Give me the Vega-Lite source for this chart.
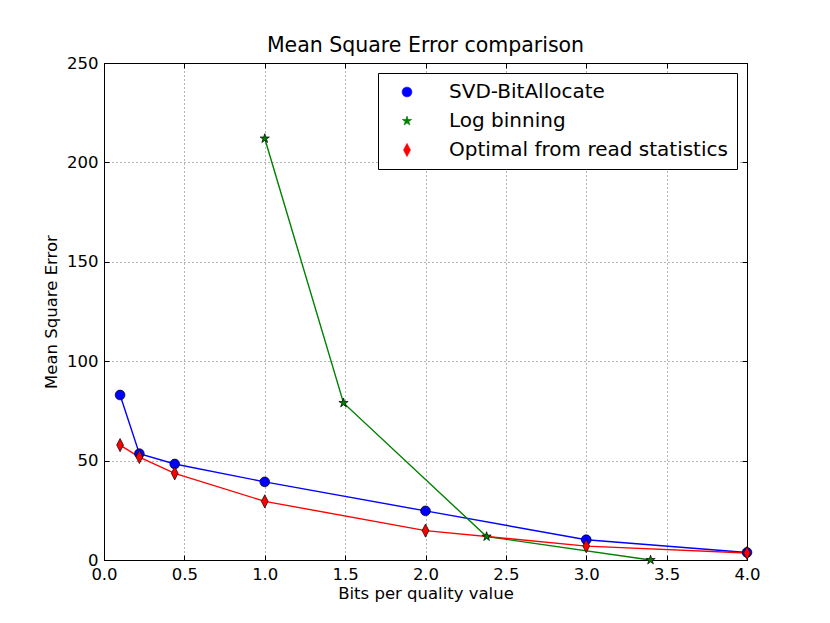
{
  "$schema": "https://vega.github.io/schema/vega-lite/v6.json",
  "width": 643,
  "height": 497,
  "autosize": {"type": "none"},
  "padding": {"left": 104, "top": 63, "right": 83, "bottom": 63},
  "background": "white",
  "config": {
    "font": "DejaVu Sans",
    "view": {"stroke": "black", "strokeWidth": 1},
    "axis": {
      "labelFontSize": 16.5,
      "labelColor": "black",
      "labelFlush": false,
      "titleFontSize": 16.5,
      "titleFontWeight": "normal",
      "titleColor": "black",
      "domain": false,
      "tickColor": "black",
      "tickSize": -5,
      "labelPadding": 11,
      "gridColor": "black",
      "gridDash": [1, 3],
      "gridOpacity": 0.6
    },
    "legend": {
      "orient": "top-right",
      "offset": 10,
      "strokeColor": "black",
      "fillColor": "white",
      "padding": 9,
      "rowPadding": 9,
      "labelFontSize": 20,
      "labelColor": "black",
      "symbolOffset": 10,
      "labelOffset": 32,
      "symbolSize": 95,
      "symbolStrokeColor": "black",
      "symbolStrokeWidth": 0.7,
      "labelLimit": 400
    }
  },
  "title": {
    "text": "Mean Square Error comparison",
    "fontSize": 20.5,
    "fontWeight": "normal",
    "color": "black",
    "offset": -1
  },
  "data": {
    "values": [
      {"series": "SVD-BitAllocate", "bits": 0.1, "mse": 83},
      {"series": "SVD-BitAllocate", "bits": 0.22, "mse": 53.5},
      {"series": "SVD-BitAllocate", "bits": 0.44, "mse": 48.3},
      {"series": "SVD-BitAllocate", "bits": 1.0, "mse": 39.3},
      {"series": "SVD-BitAllocate", "bits": 2.0, "mse": 24.7},
      {"series": "SVD-BitAllocate", "bits": 3.0, "mse": 10.2},
      {"series": "SVD-BitAllocate", "bits": 4.0, "mse": 3.8},
      {"series": "Log binning", "bits": 1.0, "mse": 212},
      {"series": "Log binning", "bits": 1.49, "mse": 79},
      {"series": "Log binning", "bits": 2.38, "mse": 11.8},
      {"series": "Log binning", "bits": 3.4, "mse": 0},
      {"series": "Optimal from read statistics", "bits": 0.1, "mse": 57.8},
      {"series": "Optimal from read statistics", "bits": 0.22, "mse": 51.8},
      {"series": "Optimal from read statistics", "bits": 0.44, "mse": 43.6},
      {"series": "Optimal from read statistics", "bits": 1.0, "mse": 29.5},
      {"series": "Optimal from read statistics", "bits": 2.0, "mse": 14.8},
      {"series": "Optimal from read statistics", "bits": 3.0, "mse": 7},
      {"series": "Optimal from read statistics", "bits": 4.0, "mse": 3.5}
    ]
  },
  "layer": [
    {
      "mark": {"type": "line", "strokeWidth": 1.4},
      "encoding": {
        "x": {
          "field": "bits", "type": "quantitative",
          "scale": {"domain": [0, 4], "nice": false},
          "axis": {"orient": "bottom", "values": [0, 0.5, 1, 1.5, 2, 2.5, 3, 3.5, 4], "format": ".1f", "title": "Bits per quality value", "titlePadding": 3}
        },
        "y": {
          "field": "mse", "type": "quantitative",
          "scale": {"domain": [0, 250], "nice": false},
          "axis": {"orient": "left", "values": [0, 50, 100, 150, 200, 250], "title": "Mean Square Error", "titlePadding": 7}
        },
        "color": {
          "field": "series", "type": "nominal", "title": null,
          "scale": {"domain": ["SVD-BitAllocate", "Log binning", "Optimal from read statistics"], "range": ["#0000ff", "#008000", "#ff0000"]}
        }
      }
    },
    {
      "mark": {"type": "point", "filled": true, "stroke": "black", "strokeWidth": 0.7, "opacity": 1, "size": 95},
      "encoding": {
        "x": {
          "field": "bits", "type": "quantitative",
          "axis": {"orient": "top", "values": [0, 0.5, 1, 1.5, 2, 2.5, 3, 3.5, 4], "labels": false, "grid": false, "title": null}
        },
        "y": {
          "field": "mse", "type": "quantitative",
          "axis": {"orient": "right", "values": [0, 50, 100, 150, 200, 250], "labels": false, "grid": false, "title": null}
        },
        "color": {
          "field": "series", "type": "nominal", "title": null
        },
        "shape": {
          "field": "series", "type": "nominal", "title": null,
          "scale": {"domain": ["SVD-BitAllocate", "Log binning", "Optimal from read statistics"], "range": ["circle", "M0,-1L0.225,-0.309L0.951,-0.309L0.363,0.118L0.588,0.809L0,0.382L-0.588,0.809L-0.363,0.118L-0.951,-0.309L-0.225,-0.309Z", "M0,-1.35L0.7,0L0,1.35L-0.7,0Z"]}
        }
      }
    }
  ],
  "resolve": {"axis": {"x": "independent", "y": "independent"}}
}
